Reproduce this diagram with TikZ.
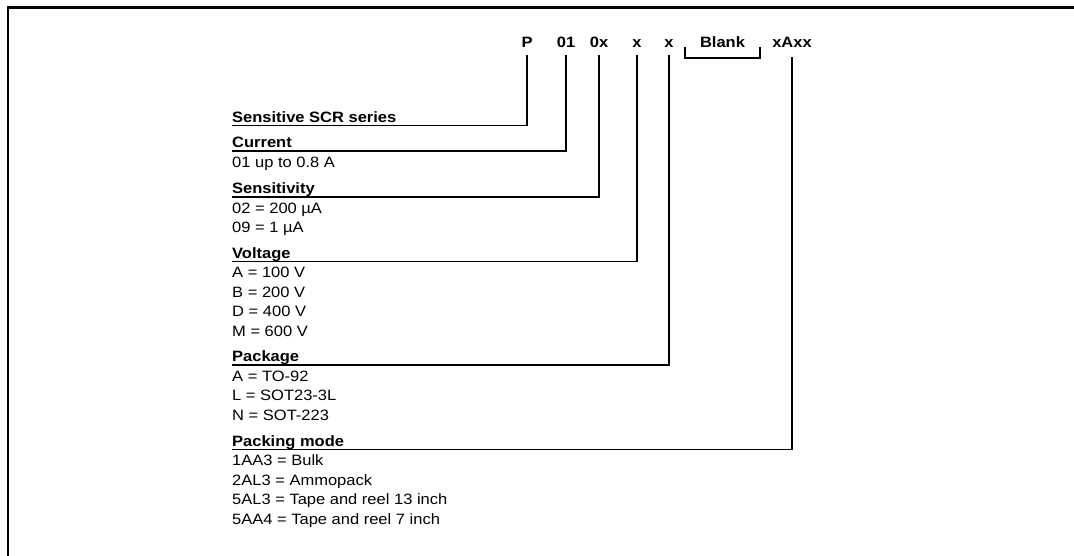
\documentclass[tikz,border=0pt]{standalone}
\usepackage{fontspec}
\setmainfont{Liberation Sans}[FakeStretch=1.1]
\usetikzlibrary{positioning}

\begin{document}
\begin{tikzpicture}[
  x=1pt,y=-1pt,
  every node/.style={inner sep=0pt,font=\fontsize{15}{18}\selectfont},
  code/.style={anchor=base,font=\fontsize{15}{18}\selectfont\bfseries},
  head/.style={anchor=base west,font=\fontsize{15}{18}\selectfont\bfseries},
  item/.style={anchor=base west},
  link/.style={line width=1.8pt},
  frame/.style={line width=2.6pt}]
\useasboundingbox (0,0) rectangle (1074,555);
\draw[frame] (8,560) |- (1080,7.5);
% ordering code
\node[code] (p)     at (527,47.5) {P};
\node[code] (c01)   at (566,47.5) {01};
\node[code] (c0x)   at (599,47.5) {0x};
\node[code] (cv)    at (637,47.5) {x};
\node[code] (cp)    at (669,47.5) {x};
\node[code] (blank) at (722.5,47.5) {Blank};
\node[code] (cpack) at (792,47.5) {xAxx};
\draw[link] (685,46.5) |- (760,58) -- (760,46.5);
% fields
\node[head] (ser)  at (232,122) {Sensitive SCR series};
\node[head] (cur)  at (232,147.5) {Current};
\node[item] (cur-1) at (232,167) {01 up to 0.8 A};
\node[head] (sens) at (232,193.5) {Sensitivity};
\foreach \t [count=\i] in {02 = 200 µA, 09 = 1 µA}
  \node[item] (sens-\i) at (232,{193.5+19.5*\i}) {\t};
\node[head] (volt) at (232,258) {Voltage};
\foreach \t [count=\i] in {A = 100 V, B = 200 V, D = 400 V, M = 600 V}
  \node[item] (volt-\i) at (232,{258+19.5*\i}) {\t};
\node[head] (pkg)  at (232,361.5) {Package};
\foreach \t [count=\i] in {A = TO-92, L = SOT23-3L, N = SOT-223}
  \node[item] (pkg-\i) at (232,{361.5+19.5*\i}) {\t};
\node[head] (mode) at (232,446) {Packing mode};
\foreach \t [count=\i] in {1AA3 = Bulk, 2AL3 = Ammopack,
    5AL3 = Tape and reel 13 inch, 5AA4 = Tape and reel 7 inch}
  \node[item] (mode-\i) at (232,{446+19.5*\i}) {\t};
% connectors
\draw[link] ([yshift=-7.5pt]p.base)   |- ([yshift=-3.5pt]ser.base west);
\draw[link] ([yshift=-7.5pt]c01.base) |- ([yshift=-3.5pt]cur.base west);
\draw[link] ([yshift=-7.5pt]c0x.base) |- ([yshift=-3.5pt]sens.base west);
\draw[link] ([yshift=-7.5pt]cv.base)  |- ([yshift=-3.5pt]volt.base west);
\draw[link] ([yshift=-7.5pt]cp.base)  |- ([yshift=-3.5pt]pkg.base west);
\draw[link] ([yshift=-9.5pt]cpack.base) |- ([yshift=-3.5pt]mode.base west);
\end{tikzpicture}
\end{document}
